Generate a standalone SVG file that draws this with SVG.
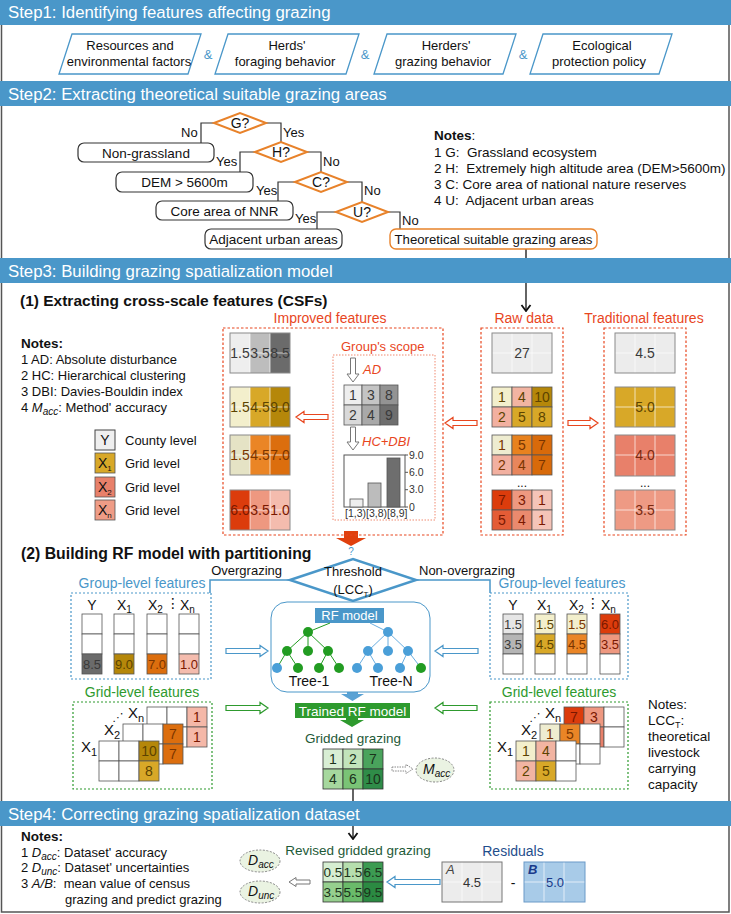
<svg xmlns="http://www.w3.org/2000/svg" width="731" height="914" viewBox="0 0 731 914">
<defs>
<style>
text{font-family:"Liberation Sans",Arial,Helvetica,sans-serif;fill:#111;}
.hb{fill:#4a97c9}
.ht{fill:#fff;font-size:16.8px}
.f10{font-size:10.5px}
.f13{font-size:13px}
.f135{font-size:13.5px}
.f14{font-size:14px}
.f15{font-size:15px}
.mid{text-anchor:middle}
.end{text-anchor:end}
.b{font-weight:bold}
.it{font-style:italic}
.pre{white-space:pre}
.para{fill:#fff;stroke:#4a97c9;stroke-width:1.3}
.amp{fill:#4a97c9;font-size:13px}
.dia{fill:#fff;stroke:#e8822a;stroke-width:2}
.box{fill:#fff;stroke:#333;stroke-width:1.2}
.obox{fill:#fff;stroke:#e8822a;stroke-width:1.4}
.ln{fill:none;stroke:#333;stroke-width:1.2}
.rdash{fill:none;stroke:#e8461e;stroke-width:1.2;stroke-dasharray:2.5 2}
.rdot{fill:none;stroke:#f08a70;stroke-width:1;stroke-dasharray:1.5 1.5}
.rl{fill:#e8461e;font-size:14px}
.wl{fill:none;stroke:#fff;stroke-width:0.8;opacity:0.85}
.ol{fill:none;stroke:#8a8a8a;stroke-width:1}
.cl{stroke:#555;stroke-width:0.8}
.bdot{fill:none;stroke:#4a97c9;stroke-width:1.2;stroke-dasharray:2 2}
.gdot{fill:none;stroke:#2e9a2e;stroke-width:1.2;stroke-dasharray:2 2}
.blt{fill:#4a97c9}
.glt{fill:#2e9a2e}
.hr{fill:#fff;stroke:#e8461e;stroke-width:1.2}
.hbl{fill:#fff;stroke:#4a97c9;stroke-width:1.2}
.hg{fill:#fff;stroke:#2e9a2e;stroke-width:1.2}
.hgr{fill:#fff;stroke:#777;stroke-width:1}
.hgd{fill:#fff;stroke:#888;stroke-width:1;stroke-dasharray:1.5 1}
.gn{fill:#229c22}
.bn{fill:#4a9fd8}
.ge{fill:none;stroke:#229c22;stroke-width:1}
.be{fill:none;stroke:#6aaee0;stroke-width:1}
.ell{fill:#eaf3e2;stroke:#888;stroke-width:1;stroke-dasharray:2 1.5}
.yel{fill:#5c4300}
.org{fill:#7a3500}
.red{fill:#7a1800}
.gry{fill:#3a3a3a}
.dg{fill:#1e5a38}
</style>
<marker id="chev" viewBox="-1 -6 8 12" refX="6" refY="0" markerWidth="8" markerHeight="12" markerUnits="userSpaceOnUse" orient="auto"><path d="M0,-4.5 L6,0 L0,4.5" fill="none" stroke="#111" stroke-width="1.8"/></marker>
</defs>
<rect x="0" y="0" width="731" height="914" fill="#fff"/>
<rect x="1.5" y="-2" width="727.5" height="914" fill="none" stroke="#555" stroke-width="1.5"/>

<g id="connectors">
<polyline class="ln" points="214,123 201,123 201,143"/>
<polyline class="ln" points="266,123 281,123 281,142"/>
<polyline class="ln" points="255,152 240,152 240,172"/>
<polyline class="ln" points="307,152 321,152 321,172"/>
<polyline class="ln" points="295,182 278,182 278,201"/>
<polyline class="ln" points="347,182 362,182 362,202"/>
<polyline class="ln" points="336,212 317,212 317,229"/>
<polyline class="ln" points="388,212 400,212 400,229"/>
<line x1="526" y1="249" x2="526" y2="311" stroke="#111" stroke-width="1.3" marker-end="url(#chev)"/>
<path class="hr" d="M328,414.5 H304 V411.5 L296,417 L304,422.5 V419.5 H328 Z"/>
<path class="hr" d="M477,420.5 H453 V417.5 L445,423 L453,428.5 V425.5 H477 Z"/>
<path class="hr" d="M568,420.5 H590 V417.5 L598,423 L590,428.5 V425.5 H568 Z"/>
<path class="hgr" d="M350.5,358 V374 H347 L353,382 L359,374 H355.5 V358 Z"/>
<path class="hgr" d="M350.5,427 V442 H347 L353,450 L359,442 H355.5 V427 Z"/>
<path fill="#e0400e" d="M344,531 H358 V538 H366 L351,546 L336,538 H344 Z"/>
<polyline fill="none" stroke="#4a97c9" stroke-width="1.5" points="290,580 210,580 210,593"/>
<polyline fill="none" stroke="#4a97c9" stroke-width="1.5" points="416,580 490,580 490,593"/>
<path class="hbl" d="M226,648.5 H260 V645.5 L268,651 L260,656.5 V653.5 H226 Z"/>
<path class="hbl" d="M478,648.5 H443 V645.5 L435,651 L443,656.5 V653.5 H478 Z"/>
<path class="hg" d="M226,705.5 H260 V702.5 L268,708 L260,713.5 V710.5 H226 Z"/>
<path class="hg" d="M477,705.5 H443 V702.5 L435,708 L443,713.5 V710.5 H477 Z"/>
<path fill="#5aa2d4" d="M347,692 H358 V694 H364 L352.5,701 L341,694 H347 Z"/>
<path fill="#2e9a2e" d="M346,718 H358 V720 H364 L352,727 L340,720 H346 Z"/>
<path class="hgd" d="M392,767 H406 V764.5 L413,769 L406,773.5 V771 H392 Z"/>
<line x1="353" y1="789" x2="353" y2="839" stroke="#111" stroke-width="1.3" marker-end="url(#chev)"/>
<path class="hgr" d="M310,880 H296 V877.5 L289,882 L296,886.5 V884 H310 Z"/>
<path class="hbl" d="M440,879.5 H395 V876.5 L387,882 L395,887.5 V884.5 H440 Z"/>
</g>

<g id="headers">
<rect class="hb" x="0" y="0" width="731" height="25"/>
<text class="ht" x="8" y="18">Step1: Identifying features affecting grazing</text>
<rect class="hb" x="0" y="81" width="731" height="25"/>
<text class="ht" x="8" y="99.5">Step2: Extracting theoretical suitable grazing areas</text>
<rect class="hb" x="0" y="258" width="731" height="25"/>
<text class="ht" x="8" y="276.5">Step3: Building grazing spatialization model</text>
<rect class="hb" x="0" y="801" width="731" height="25"/>
<text class="ht" x="8" y="819.5">Step4: Correcting grazing spatialization dataset</text>
</g>

<g id="step1-factors">
<g id="f1"><polygon class="para" points="72,34 201,34 188,74 59,74"/><text class="f13 mid" x="130" y="50">Resources and</text><text class="f13 mid" x="129" y="66">environmental factors</text></g>
<text class="amp mid" x="208" y="59">&amp;</text>
<g id="f2"><polygon class="para" points="228,34 359,34 346,74 215,74"/><text class="f13 mid" x="287" y="50">Herds'</text><text class="f13 mid" x="285" y="66">foraging behavior</text></g>
<text class="amp mid" x="365" y="59">&amp;</text>
<g id="f3"><polygon class="para" points="387,34 516,34 503,74 374,74"/><text class="f13 mid" x="446" y="50">Herders'</text><text class="f13 mid" x="443" y="66">grazing behavior</text></g>
<text class="amp mid" x="523" y="59">&amp;</text>
<g id="f4"><polygon class="para" points="543,34 672,34 659,74 530,74"/><text class="f13 mid" x="602" y="50">Ecological</text><text class="f13 mid" x="599" y="66">protection policy</text></g>
</g>

<g id="step2">
<g id="dG"><polygon class="dia" points="214,123 240,113 266,123 240,133"/><text class="f14 mid" x="240" y="128">G?</text></g>
<g id="dH"><polygon class="dia" points="255,152 281,142 307,152 281,162"/><text class="f14 mid" x="281" y="157">H?</text></g>
<g id="dC"><polygon class="dia" points="295,182 321,172 347,182 321,192"/><text class="f14 mid" x="321" y="187">C?</text></g>
<g id="dU"><polygon class="dia" points="336,212 362,202 388,212 362,222"/><text class="f14 mid" x="362" y="217">U?</text></g>
<g id="bNon"><rect class="box" x="78" y="143" width="136" height="19" rx="6"/><text class="f135 mid" x="146" y="157.5">Non-grassland</text></g>
<g id="bDEM"><rect class="box" x="116" y="172" width="137" height="20" rx="6"/><text class="f135 mid" x="184.5" y="187">DEM &gt; 5600m</text></g>
<g id="bCore"><rect class="box" x="156" y="201" width="137" height="19" rx="6"/><text class="f135 mid" x="224.5" y="215.5">Core area of NNR</text></g>
<g id="bAdj"><rect class="box" x="205" y="229" width="137" height="20" rx="6"/><text class="f135 mid" x="273.5" y="244">Adjacent urban areas</text></g>
<g id="bTheo"><rect class="obox" x="390" y="229" width="207" height="20" rx="6"/><text class="mid" style="font-size:13.2px" x="493.5" y="244">Theoretical suitable grazing areas</text></g>
<text class="f13" x="181" y="137">No</text>
<text class="f13" x="283" y="137">Yes</text>
<text class="f13" x="216" y="166">Yes</text>
<text class="f13" x="323" y="166">No</text>
<text class="f13" x="256" y="195">Yes</text>
<text class="f13" x="364" y="195">No</text>
<text class="f13" x="295" y="223">Yes</text>
<text class="f13" x="402" y="225">No</text>
<g id="notes2">
<text class="f135" x="434" y="140"><tspan class="b">Notes</tspan>:</text>
<text class="f135 pre" x="434" y="157">1 G:  Grassland ecosystem</text>
<text class="f135 pre" x="434" y="173">2 H:  Extremely high altitude area (DEM&gt;5600m)</text>
<text class="f135 pre" x="434" y="189">3 C: Core area of national nature reserves</text>
<text class="f135 pre" x="434" y="205">4 U:  Adjacent urban areas</text>
</g>
</g>

<g id="step3-title">
<text class="b" style="font-size:15.5px" x="20" y="306">(1) Extracting cross-scale features (CSFs)</text>
</g>

<g id="notes3">
<text class="f135 b" x="21" y="348">Notes:</text>
<text class="f13" x="21" y="364">1 AD: Absolute disturbance</text>
<text class="f13" x="21" y="380">2 HC: Hierarchical clustering</text>
<text class="f13" x="21" y="396">3 DBI: Davies-Bouldin index</text>
<text class="f13" x="21" y="412">4 <tspan class="it">M</tspan><tspan class="it" font-size="10" dy="3">acc</tspan><tspan dy="-3">: Method' accuracy</tspan></text>
</g>

<g id="legend">
<rect x="95" y="430" width="20" height="20" fill="#efefef" stroke="#444" stroke-width="1"/>
<text class="f14 mid" x="105" y="445">Y</text>
<text class="f13" x="125" y="445">County level</text>
<rect x="95" y="453" width="20" height="20" fill="#d8a828" stroke="#555" stroke-width="0.8"/>
<text class="f14" x="98" y="468">X<tspan font-size="8" dy="3">1</tspan></text>
<text class="f13" x="125" y="468">Grid level</text>
<rect x="95" y="477" width="20" height="20" fill="#e8806a" stroke="#555" stroke-width="0.8"/>
<text class="f14" x="98" y="492">X<tspan font-size="8" dy="3">2</tspan></text>
<text class="f13" x="125" y="492">Grid level</text>
<rect x="95" y="500" width="20" height="20" fill="#ef9c86" stroke="#555" stroke-width="0.8"/>
<text class="f14" x="98" y="515">X<tspan font-size="8" dy="3">n</tspan></text>
<text class="f13" x="125" y="515">Grid level</text>
</g>

<g id="improved">
<rect class="rdash" x="223" y="328" width="220" height="207"/>
<text class="rl mid" x="330" y="323">Improved features</text>
<rect x="230" y="333" width="20" height="40" fill="#eeeeee"/><rect x="250" y="333" width="20" height="40" fill="#bdbdbd"/><rect x="270" y="333" width="20" height="40" fill="#6b6b6b"/>
<path class="wl" d="M250,333V373M270,333V373M230,353H290"/><rect class="ol" x="230" y="333" width="60" height="40"/>
<text class="f14 mid gry" x="240" y="358">1.5</text><text class="f14 mid gry" x="260" y="358">3.5</text><text class="f14 mid gry" x="280" y="358">8.5</text>
<rect x="230" y="387" width="20" height="40" fill="#f3efcc"/><rect x="250" y="387" width="20" height="40" fill="#d8a828"/><rect x="270" y="387" width="20" height="40" fill="#b5870a"/>
<path class="wl" d="M250,387V427M270,387V427M230,407H290"/><rect class="ol" x="230" y="387" width="60" height="40"/>
<text class="f14 mid yel" x="240" y="412">1.5</text><text class="f14 mid yel" x="260" y="412">4.5</text><text class="f14 mid yel" x="280" y="412">9.0</text>
<rect x="230" y="435" width="20" height="40" fill="#e5e3c5"/><rect x="250" y="435" width="20" height="40" fill="#ea8526"/><rect x="270" y="435" width="20" height="40" fill="#dc6e0e"/>
<path class="wl" d="M250,435V475M270,435V475M230,455H290"/><rect class="ol" x="230" y="435" width="60" height="40"/>
<text class="f14 mid org" x="240" y="460">1.5</text><text class="f14 mid org" x="260" y="460">4.5</text><text class="f14 mid org" x="280" y="460">7.0</text>
<rect x="230" y="490" width="20" height="40" fill="#dc3c0c"/><rect x="250" y="490" width="20" height="40" fill="#ee9880"/><rect x="270" y="490" width="20" height="40" fill="#f4bcae"/>
<path class="wl" d="M250,490V530M270,490V530M230,510H290"/><rect class="ol" x="230" y="490" width="60" height="40"/>
<text class="f14 mid red" x="240" y="515">6.0</text><text class="f14 mid red" x="260" y="515">3.5</text><text class="f14 mid red" x="280" y="515">1.0</text>
</g>

<g id="groupscope">
<rect class="rdot" x="333" y="355" width="102" height="165"/>
<text class="f13" style="fill:#e8461e" x="341" y="351">Group's scope</text>
<text class="f13 it" style="fill:#e8461e" x="363" y="374">AD</text>
<rect x="344" y="385" width="18" height="20" fill="#eeeeee" class="cl"/><rect x="362" y="385" width="18" height="20" fill="#c4c4c4" class="cl"/><rect x="380" y="385" width="18" height="20" fill="#939393" class="cl"/>
<rect x="344" y="405" width="18" height="20" fill="#d9d9d9" class="cl"/><rect x="362" y="405" width="18" height="20" fill="#a9a9a9" class="cl"/><rect x="380" y="405" width="18" height="20" fill="#6e6e6e" class="cl"/>
<text class="f14 mid gry" x="353" y="400">1</text><text class="f14 mid gry" x="371" y="400">3</text><text class="f14 mid gry" x="389" y="400">8</text>
<text class="f14 mid gry" x="353" y="420">2</text><text class="f14 mid gry" x="371" y="420">4</text><text class="f14 mid gry" x="389" y="420">9</text>
<text class="f13 it" style="fill:#e8461e" x="362" y="446">HC+DBI</text>
<rect x="344" y="455" width="61" height="52" fill="#fff" stroke="#555" stroke-width="1"/>
<rect x="350" y="499" width="13" height="8" fill="#eeeeee" stroke="#555" stroke-width="0.8"/>
<rect x="368" y="483" width="13" height="24" fill="#bcbcbc" stroke="#555" stroke-width="0.8"/>
<rect x="387" y="458" width="13" height="49" fill="#6e6e6e" stroke="#555" stroke-width="0.8"/>
<path d="M405,455h3M405,472.3h3M405,489.7h3M405,507h3" stroke="#555" stroke-width="1"/>
<text class="f10" style="fill:#333" x="409" y="459">9.0</text>
<text class="f10" style="fill:#333" x="409" y="476">6.0</text>
<text class="f10" style="fill:#333" x="409" y="493">3.0</text>
<text class="f10" style="fill:#333" x="409" y="511">0</text>
<text class="f10" style="fill:#333" x="345" y="517">[1,3)[3,8)[8,9]</text>
</g>

<g id="rawdata">
<rect class="rdash" x="481" y="328" width="82" height="207"/>
<text class="rl mid" x="524" y="323">Raw data</text>
<rect x="492" y="333" width="60" height="40" fill="#ececec"/>
<path class="wl" d="M512,333V373M532,333V373M492,353H552"/><rect class="ol" x="492" y="333" width="60" height="40"/>
<text class="f14 mid gry" x="522" y="358">27</text>
<rect class="cl" x="492" y="387" width="20" height="20" fill="#f3efcc"/><rect class="cl" x="512" y="387" width="20" height="20" fill="#f2b4a2"/><rect class="cl" x="532" y="387" width="20" height="20" fill="#b5870a"/>
<rect class="cl" x="492" y="407" width="20" height="20" fill="#f2b0a0"/><rect class="cl" x="512" y="407" width="20" height="20" fill="#d8a828"/><rect class="cl" x="532" y="407" width="20" height="20" fill="#d8a828"/>
<text class="f14 mid yel" x="502" y="402">1</text><text class="f14 mid yel" x="522" y="402">4</text><text class="f14 mid yel" x="542" y="402">10</text>
<text class="f14 mid yel" x="502" y="422">2</text><text class="f14 mid yel" x="522" y="422">5</text><text class="f14 mid yel" x="542" y="422">8</text>
<rect class="cl" x="492" y="435" width="20" height="20" fill="#eeecd0"/><rect class="cl" x="512" y="435" width="20" height="20" fill="#e8821e"/><rect class="cl" x="532" y="435" width="20" height="20" fill="#d86a0a"/>
<rect class="cl" x="492" y="455" width="20" height="20" fill="#f2b0a0"/><rect class="cl" x="512" y="455" width="20" height="20" fill="#e8865c"/><rect class="cl" x="532" y="455" width="20" height="20" fill="#d86a0a"/>
<text class="f14 mid org" x="502" y="450">1</text><text class="f14 mid org" x="522" y="450">5</text><text class="f14 mid org" x="542" y="450">7</text>
<text class="f14 mid org" x="502" y="470">2</text><text class="f14 mid org" x="522" y="470">4</text><text class="f14 mid org" x="542" y="470">7</text>
<text class="mid" style="font-size:12px" x="522" y="487">...</text>
<rect class="cl" x="492" y="490" width="20" height="20" fill="#dc3c0c"/><rect class="cl" x="512" y="490" width="20" height="20" fill="#ee9880"/><rect class="cl" x="532" y="490" width="20" height="20" fill="#f5c4b8"/>
<rect class="cl" x="492" y="510" width="20" height="20" fill="#e45c36"/><rect class="cl" x="512" y="510" width="20" height="20" fill="#ea8a6e"/><rect class="cl" x="532" y="510" width="20" height="20" fill="#f5c4b8"/>
<text class="f14 mid red" x="502" y="505">7</text><text class="f14 mid red" x="522" y="505">3</text><text class="f14 mid red" x="542" y="505">1</text>
<text class="f14 mid red" x="502" y="525">5</text><text class="f14 mid red" x="522" y="525">4</text><text class="f14 mid red" x="542" y="525">1</text>
</g>

<g id="traditional">
<rect class="rdash" x="604" y="328" width="82" height="207"/>
<text class="rl mid" x="644" y="323">Traditional features</text>
<rect x="615" y="333" width="60" height="40" fill="#ececec"/>
<path class="wl" d="M635,333V373M655,333V373M615,353H675"/><rect class="ol" x="615" y="333" width="60" height="40"/>
<text class="f14 mid gry" x="645" y="358">4.5</text>
<rect x="615" y="387" width="60" height="40" fill="#d8a828"/>
<path class="wl" d="M635,387V427M655,387V427M615,407H675"/><rect class="ol" x="615" y="387" width="60" height="40"/>
<text class="f14 mid yel" x="645" y="412">5.0</text>
<rect x="615" y="435" width="60" height="41" fill="#e8806a"/>
<path class="wl" d="M635,435V476M655,435V476M615,455H675"/><rect class="ol" x="615" y="435" width="60" height="41"/>
<text class="f14 mid" style="fill:#7a2a10" x="645" y="460">4.0</text>
<text class="mid" style="font-size:12px" x="645" y="487">...</text>
<rect x="615" y="490" width="60" height="40" fill="#ee9a84"/>
<path class="wl" d="M635,490V530M655,490V530M615,510H675"/><rect class="ol" x="615" y="490" width="60" height="40"/>
<text class="f14 mid" style="fill:#7a2a10" x="645" y="515">3.5</text>
</g>

<g id="step3-part2">
<text class="b" style="font-size:15.8px" x="21" y="559">(2) Building RF model with partitioning</text>
<text style="fill:#4a97c9;font-size:10px" class="mid" x="351" y="555">?</text>
</g>

<g id="threshold">
<polygon points="290,580 353,559 416,580 353,601" fill="#fff" stroke="#4a97c9" stroke-width="2.5"/>
<text class="f13 mid" x="353" y="576">Threshold</text>
<text class="f13 mid" x="353" y="594">(LCC<tspan font-size="8" dy="3">T</tspan><tspan dy="-3">)</tspan></text>
<text class="f13 end" x="282" y="575">Overgrazing</text>
<text class="f13" x="419" y="575">Non-overgrazing</text>
</g>

<g id="group-left">
<rect class="bdot" x="71" y="593" width="140" height="86"/>
<text class="f14 mid blt" x="142" y="588">Group-level features</text>
<text class="f14 mid" x="92" y="610">Y</text>
<text class="f14" x="117" y="610">X<tspan font-size="10" dy="3">1</tspan></text>
<text class="f14" x="148" y="610">X<tspan font-size="10" dy="3">2</tspan></text>
<text class="f14 mid" style="font-family:'DejaVu Sans',sans-serif" x="173" y="608">⋮</text>
<text class="f14" x="180" y="610">X<tspan font-size="10" dy="3">n</tspan></text>
<rect class="cl" x="82" y="614" width="20" height="20" fill="#fff"/><rect class="cl" x="82" y="634" width="20" height="20" fill="#fff"/><rect class="cl" x="82" y="654" width="20" height="20" fill="#6b6b6b"/>
<rect class="cl" x="114" y="614" width="20" height="20" fill="#fff"/><rect class="cl" x="114" y="634" width="20" height="20" fill="#fff"/><rect class="cl" x="114" y="654" width="20" height="20" fill="#b5870a"/>
<rect class="cl" x="147" y="614" width="20" height="20" fill="#fff"/><rect class="cl" x="147" y="634" width="20" height="20" fill="#fff"/><rect class="cl" x="147" y="654" width="20" height="20" fill="#dc6e0e"/>
<rect class="cl" x="179" y="614" width="20" height="20" fill="#fff"/><rect class="cl" x="179" y="634" width="20" height="20" fill="#fff"/><rect class="cl" x="179" y="654" width="20" height="20" fill="#f4bcae"/>
<text class="f13 mid gry" x="92" y="669">8.5</text>
<text class="f13 mid yel" x="124" y="669">9.0</text>
<text class="f13 mid org" x="157" y="669">7.0</text>
<text class="f13 mid red" x="189" y="669">1.0</text>
</g>

<g id="group-right">
<rect class="bdot" x="490" y="593" width="138" height="86"/>
<text class="f14 mid blt" x="562" y="588">Group-level features</text>
<text class="f14 mid" x="513" y="610">Y</text>
<text class="f14" x="537" y="610">X<tspan font-size="10" dy="3">1</tspan></text>
<text class="f14" x="569" y="610">X<tspan font-size="10" dy="3">2</tspan></text>
<text class="f14 mid" style="font-family:'DejaVu Sans',sans-serif" x="593" y="608">⋮</text>
<text class="f14" x="601" y="610">X<tspan font-size="10" dy="3">n</tspan></text>
<rect class="cl" x="503" y="614" width="20" height="20" fill="#e6e6e6"/><rect class="cl" x="503" y="634" width="20" height="20" fill="#b5b5b5"/><rect class="cl" x="503" y="654" width="20" height="20" fill="#fff"/>
<rect class="cl" x="535" y="614" width="20" height="20" fill="#f3efcc"/><rect class="cl" x="535" y="634" width="20" height="20" fill="#d8a828"/><rect class="cl" x="535" y="654" width="20" height="20" fill="#fff"/>
<rect class="cl" x="567" y="614" width="20" height="20" fill="#f3efcc"/><rect class="cl" x="567" y="634" width="20" height="20" fill="#ea8526"/><rect class="cl" x="567" y="654" width="20" height="20" fill="#fff"/>
<rect class="cl" x="600" y="614" width="20" height="20" fill="#dc3c0c"/><rect class="cl" x="600" y="634" width="20" height="20" fill="#ee9880"/><rect class="cl" x="600" y="654" width="20" height="20" fill="#fff"/>
<text class="f13 mid gry" x="513" y="629">1.5</text><text class="f13 mid gry" x="513" y="649">3.5</text>
<text class="f13 mid yel" x="545" y="629">1.5</text><text class="f13 mid yel" x="545" y="649">4.5</text>
<text class="f13 mid org" x="577" y="629">1.5</text><text class="f13 mid org" x="577" y="649">4.5</text>
<text class="f13 mid red" x="610" y="629">6.0</text><text class="f13 mid red" x="610" y="649">3.5</text>
</g>

<g id="rf-model">
<rect x="271" y="602" width="159" height="90" rx="16" fill="#fff" stroke="#4a97c9" stroke-width="1"/>
<rect x="315" y="608" width="69" height="15" fill="#4a97c9"/>
<text class="f13 mid" style="fill:#fff" x="349.5" y="620">RF model</text>
<path class="ge" d="M330,623L308,632M308,632L287,651M308,632L308,651M308,632L328,651M287,651L277,668M287,651L298,668M328,651L319,668M328,651L339,668"/>
<path class="be" d="M370,623L388,632M388,632L368,651M388,632L388,651M388,632L408,651M368,651L357,668M368,651L378,668M408,651L400,668M408,651L421,668"/>
<circle class="gn" cx="308" cy="632" r="5"/><circle class="gn" cx="287" cy="651" r="5"/><circle class="gn" cx="308" cy="651" r="5"/><circle class="gn" cx="328" cy="651" r="5"/>
<circle class="bn" cx="277" cy="668" r="5"/><circle class="gn" cx="298" cy="668" r="5"/><circle class="gn" cx="319" cy="668" r="5"/><circle class="gn" cx="339" cy="668" r="5"/>
<circle class="bn" cx="388" cy="632" r="5"/><circle class="bn" cx="368" cy="651" r="5"/><circle class="bn" cx="388" cy="651" r="5"/><circle class="bn" cx="408" cy="651" r="5"/>
<circle class="bn" cx="357" cy="668" r="5"/><circle class="bn" cx="378" cy="668" r="5"/><circle class="bn" cx="400" cy="668" r="5"/><circle class="gn" cx="421" cy="668" r="5"/>
<text class="f14 mid" x="309" y="686">Tree-1</text>
<text class="f14 mid" x="391" y="686">Tree-N</text>
</g>

<g id="trained-rf">
<rect x="295" y="703" width="115" height="15" fill="#2e9a2e"/>
<text class="mid" style="fill:#fff;font-size:13.5px" x="352.5" y="715.5">Trained RF model</text>
</g>

<g id="grid-left">
<rect class="gdot" x="73" y="702" width="139" height="87"/>
<text class="f14 mid glt" x="142" y="697">Grid-level features</text>
<rect class="cl" x="147" y="707" width="20" height="20" fill="#fff"/><rect class="cl" x="167" y="707" width="20" height="20" fill="#fff"/><rect class="cl" x="187" y="707" width="20" height="20" fill="#f5b8a8"/>
<rect class="cl" x="147" y="727" width="20" height="20" fill="#fff"/><rect class="cl" x="167" y="727" width="20" height="20" fill="#fff"/><rect class="cl" x="187" y="727" width="20" height="20" fill="#f5b8a8"/>
<text class="f14 mid red" x="197" y="722">1</text><text class="f14 mid red" x="197" y="742">1</text>
<rect class="cl" x="123" y="724" width="20" height="20" fill="#fff"/><rect class="cl" x="143" y="724" width="20" height="20" fill="#fff"/><rect class="cl" x="163" y="724" width="20" height="20" fill="#dc6e0e"/>
<rect class="cl" x="123" y="744" width="20" height="20" fill="#fff"/><rect class="cl" x="143" y="744" width="20" height="20" fill="#fff"/><rect class="cl" x="163" y="744" width="20" height="20" fill="#dc6e0e"/>
<text class="f14 mid org" x="173" y="739">7</text><text class="f14 mid org" x="173" y="759">7</text>
<rect class="cl" x="99" y="741" width="20" height="20" fill="#fff"/><rect class="cl" x="119" y="741" width="20" height="20" fill="#fff"/><rect class="cl" x="139" y="741" width="20" height="20" fill="#b5870a"/>
<rect class="cl" x="99" y="761" width="20" height="20" fill="#fff"/><rect class="cl" x="119" y="761" width="20" height="20" fill="#fff"/><rect class="cl" x="139" y="761" width="20" height="20" fill="#d8a828"/>
<text class="f14 mid yel" x="149" y="756">10</text><text class="f14 mid yel" x="149" y="776">8</text>
<text class="f15" x="81" y="752">X<tspan font-size="11" dy="4">1</tspan></text>
<text class="f15" x="104" y="735">X<tspan font-size="11" dy="4">2</tspan></text>
<text class="f15" x="128" y="718">X<tspan font-size="11" dy="4">n</tspan></text>
<text class="mid" style="font-family:'DejaVu Sans',sans-serif;font-size:11px" x="118" y="721">⋰</text>
</g>

<g id="grid-right">
<rect class="gdot" x="490" y="702" width="138" height="87"/>
<text class="f14 mid glt" x="559" y="697">Grid-level features</text>
<rect class="cl" x="564" y="707" width="20" height="20" fill="#dc3c0c"/><rect class="cl" x="584" y="707" width="20" height="20" fill="#ee9880"/><rect class="cl" x="604" y="707" width="20" height="20" fill="#fff"/>
<rect class="cl" x="564" y="727" width="20" height="20" fill="#e45c36"/><rect class="cl" x="584" y="727" width="20" height="20" fill="#e8806a"/><rect class="cl" x="604" y="727" width="20" height="20" fill="#fff"/>
<text class="f14 mid red" x="574" y="722">7</text><text class="f14 mid red" x="594" y="722">3</text>
<rect class="cl" x="540" y="724" width="20" height="20" fill="#eeecd0"/><rect class="cl" x="560" y="724" width="20" height="20" fill="#ea8526"/><rect class="cl" x="580" y="724" width="20" height="20" fill="#fff"/>
<rect class="cl" x="540" y="744" width="20" height="20" fill="#f2b0a0"/><rect class="cl" x="560" y="744" width="20" height="20" fill="#fff"/><rect class="cl" x="580" y="744" width="20" height="20" fill="#fff"/>
<text class="f14 mid org" x="550" y="739">1</text><text class="f14 mid org" x="570" y="739">5</text>
<rect class="cl" x="516" y="741" width="20" height="20" fill="#f3efcc"/><rect class="cl" x="536" y="741" width="20" height="20" fill="#f2b4a2"/><rect class="cl" x="556" y="741" width="20" height="20" fill="#fff"/>
<rect class="cl" x="516" y="761" width="20" height="20" fill="#f2b4a2"/><rect class="cl" x="536" y="761" width="20" height="20" fill="#d8a828"/><rect class="cl" x="556" y="761" width="20" height="20" fill="#fff"/>
<text class="f14 mid yel" x="526" y="756">1</text><text class="f14 mid yel" x="546" y="756">4</text>
<text class="f14 mid yel" x="526" y="776">2</text><text class="f14 mid yel" x="546" y="776">5</text>
<text class="f15" x="497" y="752">X<tspan font-size="11" dy="4">1</tspan></text>
<text class="f15" x="521" y="735">X<tspan font-size="11" dy="4">2</tspan></text>
<text class="f15" x="545" y="718">X<tspan font-size="11" dy="4">n</tspan></text>
<text class="mid" style="font-family:'DejaVu Sans',sans-serif;font-size:11px" x="535" y="721">⋰</text>
</g>

<g id="notes-lcc">
<text class="f135" x="648" y="709">Notes:</text>
<text class="f135" x="648" y="725">LCC<tspan font-size="9" dy="3">T</tspan><tspan dy="-3">:</tspan></text>
<text class="f135" x="648" y="741">theoretical</text>
<text class="f135" x="648" y="757">livestock</text>
<text class="f135" x="648" y="773">carrying</text>
<text class="f135" x="648" y="789">capacity</text>
</g>

<g id="gridded">
<text class="f135 mid dg" x="353" y="743">Gridded grazing</text>
<rect x="323" y="749" width="20" height="20" fill="#d8eed4" stroke="#333" stroke-width="0.8"/><rect x="343" y="749" width="20" height="20" fill="#c2e4bb" stroke="#333" stroke-width="0.8"/><rect x="363" y="749" width="20" height="20" fill="#4aa35c" stroke="#333" stroke-width="0.8"/>
<rect x="323" y="769" width="20" height="20" fill="#a6d89e" stroke="#333" stroke-width="0.8"/><rect x="343" y="769" width="20" height="20" fill="#7ac476" stroke="#333" stroke-width="0.8"/><rect x="363" y="769" width="20" height="20" fill="#2f8c48" stroke="#333" stroke-width="0.8"/>
<text class="f14 mid" style="fill:#1b331b" x="333" y="764">1</text><text class="f14 mid" style="fill:#1b331b" x="353" y="764">2</text><text class="f14 mid" style="fill:#1b331b" x="373" y="764">7</text>
<text class="f14 mid" style="fill:#1b331b" x="333" y="784">4</text><text class="f14 mid" style="fill:#1b331b" x="353" y="784">6</text><text class="f14 mid" style="fill:#1b331b" x="373" y="784">10</text>
</g>

<g id="macc">
<ellipse class="ell" cx="435" cy="770" rx="19" ry="12"/>
<text x="423" y="774" class="f14 it">M<tspan font-size="10" dy="3">acc</tspan></text>
</g>

<g id="notes4">
<text class="f135 b" x="21" y="841">Notes:</text>
<text class="f13" x="21" y="857">1 <tspan class="it">D</tspan><tspan class="it" font-size="10" dy="3">acc</tspan><tspan dy="-3">: Dataset' accuracy</tspan></text>
<text class="f13" x="21" y="872">2 <tspan class="it">D</tspan><tspan class="it" font-size="10" dy="3">unc</tspan><tspan dy="-3">: Dataset' uncertainties</tspan></text>
<text class="f13 pre" x="21" y="888">3 <tspan class="it">A/B</tspan>:  mean value of census</text>
<text class="f13" x="65" y="904">grazing and predict grazing</text>
</g>

<g id="dacc"><ellipse class="ell" cx="260" cy="861" rx="20" ry="11"/><text x="248" y="865" class="f14 it">D<tspan font-size="10" dy="3">acc</tspan></text></g>
<g id="dunc"><ellipse class="ell" cx="260" cy="892" rx="20" ry="11"/><text x="248" y="896" class="f14 it">D<tspan font-size="10" dy="3">unc</tspan></text></g>

<g id="revised">
<text class="f135 mid dg" x="358" y="855">Revised gridded grazing</text>
<rect x="323" y="862" width="20" height="20" fill="#d6eed2" stroke="#333" stroke-width="0.8"/><rect x="343" y="862" width="20" height="20" fill="#b6dfae" stroke="#333" stroke-width="0.8"/><rect x="363" y="862" width="20" height="20" fill="#3c9b52" stroke="#333" stroke-width="0.8"/>
<rect x="323" y="882" width="20" height="20" fill="#96cf8e" stroke="#333" stroke-width="0.8"/><rect x="343" y="882" width="20" height="20" fill="#6abb6a" stroke="#333" stroke-width="0.8"/><rect x="363" y="882" width="20" height="20" fill="#2b8a42" stroke="#333" stroke-width="0.8"/>
<text class="f135 mid" style="fill:#1b331b" x="333" y="877">0.5</text><text class="f135 mid" style="fill:#1b331b" x="353" y="877">1.5</text><text class="f135 mid" style="fill:#1b331b" x="373" y="877">6.5</text>
<text class="f135 mid" style="fill:#1b331b" x="333" y="897">3.5</text><text class="f135 mid" style="fill:#1b331b" x="353" y="897">5.5</text><text class="f135 mid" style="fill:#1b331b" x="373" y="897">9.5</text>
</g>

<g id="residuals">
<text class="f14 mid" style="fill:#1f4e8c" x="513" y="856">Residuals</text>
<rect x="442" y="862" width="60" height="40" fill="#ececec"/>
<path class="wl" d="M462,862V902M482,862V902M442,882H502"/>
<rect x="442" y="862" width="60" height="40" fill="none" stroke="#777" stroke-width="1"/>
<text class="f13 it" style="fill:#444" x="446" y="874">A</text>
<text class="f13 mid" style="fill:#333" x="472" y="887">4.5</text>
<text class="f14 mid" x="513" y="888">-</text>
<rect x="524" y="862" width="61" height="40" fill="#a8cbe8"/>
<path class="wl" d="M544,862V902M564,862V902M524,882H585"/>
<rect x="524" y="862" width="61" height="40" fill="none" stroke="#6a9ac8" stroke-width="1"/>
<text class="f13 it b" style="fill:#1a3a8a" x="528" y="874">B</text>
<text class="f13 mid" style="fill:#1a3a8a" x="555" y="887">5.0</text>
</g>
</svg>
